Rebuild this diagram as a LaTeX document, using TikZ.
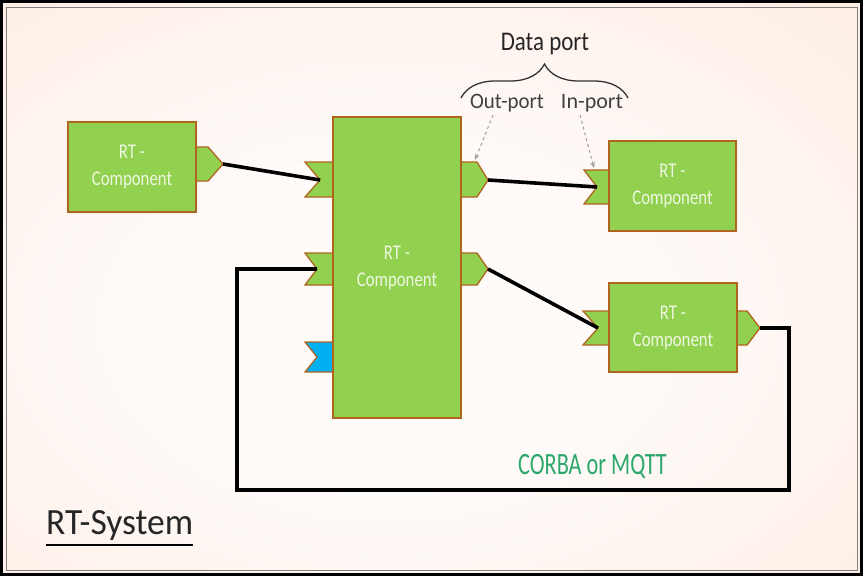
\documentclass[tikz,border=0pt]{standalone}
\usepackage{fontspec}
\setmainfont{Carlito}
\usetikzlibrary{decorations.pathreplacing,arrows.meta}
\definecolor{rtgreen}{HTML}{92D050}
\definecolor{rtedge}{HTML}{B0651E}
\definecolor{rtblue}{HTML}{00B0F0}
\definecolor{rttext}{HTML}{EEF7DF}
\definecolor{bgedge}{HTML}{FBE1D0}
\definecolor{bgmid}{HTML}{FFFBF9}
\definecolor{mwgreen}{HTML}{2BA86A}
% narrow text: horizontal squeeze factor, then text
\newcommand{\hsq}[2]{\scalebox{#1}[1]{#2}}
\pgfdeclareradialshading{bgglow}{\pgfpoint{-3bp}{-4bp}}{%
  color(0bp)=(bgmid); color(14bp)=(bgmid); color(62bp)=(bgedge); color(80bp)=(bgedge)}
\begin{document}
\begin{tikzpicture}[x=1pt,y=-1pt,
  comp/.style={draw=rtedge, fill=rtgreen, line width=1.3pt, text=rttext,
    font=\fontsize{21}{27}\selectfont, align=center, inner sep=0pt},
  port/.style={draw=rtedge, fill=rtgreen, line width=1.3pt, line join=miter},
  wire/.style={line width=3.6pt, black, line join=miter},
  hint/.style={gray!75, dashed, line width=1pt, -{Stealth[length=6pt,width=5pt]}},
  lbl/.style={inner sep=0pt, text=black!85}]
\useasboundingbox (0,0) rectangle (863,576);

% background and frame
\shade[shading=bgglow] (0,0) rectangle (863,576);
\draw[black, line width=3pt] (1.5,1.5) rectangle (861.5,574.5);
\draw[black, line width=2pt] (0,2) -- (863,2);
\draw[gray, line width=0.8pt] (6,7) rectangle (857,570);

% ports
\filldraw[port] (196,147) -- (208,147) -- (223,164) -- (208,181) -- (196,181);
\filldraw[port] (333,162) -- (305,162) -- (320,180) -- (305,197) -- (333,197);
\filldraw[port] (333,253) -- (305,253) -- (317,269) -- (305,285) -- (333,285);
\filldraw[port, fill=rtblue] (333,342) -- (305,342) -- (317,357) -- (305,372) -- (333,372);
\filldraw[port] (461,162) -- (477,162) -- (488,180) -- (477,197) -- (461,197);
\filldraw[port] (461,253) -- (477,253) -- (488,269) -- (477,285) -- (461,285);
\filldraw[port] (609,170) -- (584,170) -- (597,187) -- (584,204) -- (609,204);
\filldraw[port] (609,311) -- (583,311) -- (598,328) -- (583,345) -- (609,345);
\filldraw[port] (737,311) -- (747,311) -- (760,328) -- (747,345) -- (737,345);

% components
\node[comp, minimum width=128pt, minimum height=90pt] (lc) at (132,167)
  {\hsq{0.8}{RT -}\\\hsq{0.8}{Component}};
\node[comp, minimum width=128pt, minimum height=301pt] (mc) at (397,267.5)
  {\hsq{0.8}{RT -}\\\hsq{0.8}{Component}};
\node[comp, minimum width=127pt, minimum height=90pt] (tr) at (672.5,186)
  {\hsq{0.8}{RT -}\\\hsq{0.8}{Component}};
\node[comp, minimum width=128pt, minimum height=89pt] (br) at (673,327.5)
  {\hsq{0.8}{RT -}\\\hsq{0.8}{Component}};

% port connection points
\coordinate (lcout) at (223,164);
\coordinate (min1) at (320,180);
\coordinate (min2) at (317,269);
\coordinate (mout1) at (488,180);
\coordinate (mout2) at (488,269);
\coordinate (trin) at (597,187);
\coordinate (brin) at (598,328);
\coordinate (brout) at (760,328);
\coordinate (loopse) at (789,490);
\coordinate (loopsw) at (237,490);

% connectors
\draw[wire] (lcout) -- (min1);
\draw[wire] (mout1) -- (trin);
\draw[wire] (mout2) -- (brin);
\draw[wire, line width=3.2pt] (brout) -| (loopse) -- (loopsw) |- (min2);

% data port annotation
\node[lbl, font=\fontsize{27}{32}\selectfont] (datap) at (545,44) {\hsq{0.85}{Data port}};
\draw[black!80, line width=1.3pt, decorate, decoration={brace, amplitude=34pt}]
  (461,98) -- (628,98);
\node[lbl, font=\fontsize{22}{26}\selectfont, text=black!75] (outp) at (507,103) {\hsq{0.95}{Out-port}};
\node[lbl, font=\fontsize{22}{26}\selectfont, text=black!75] (inp) at (592,103) {In-port};
\coordinate (outtip) at (475,160);
\coordinate (intip) at (594,168);
\draw[hint] ([xshift=-14pt,yshift=-3pt]outp.south) -- (outtip);
\draw[hint] ([xshift=-12pt,yshift=-3pt]inp.south) -- (intip);

% labels
\node[lbl, font=\fontsize{31}{36}\selectfont, text=mwgreen] (mw) at (592.5,466) {\hsq{0.72}{CORBA or MQTT}};
\node[lbl, font=\fontsize{37}{44}\selectfont, anchor=base west] (rts) at (46,534) {\hsq{0.96}{RT-System}};
\draw[black, line width=2.6pt] ([yshift=-11pt]rts.base west) -- ([yshift=-11pt]rts.base east);
\end{tikzpicture}
\end{document}
